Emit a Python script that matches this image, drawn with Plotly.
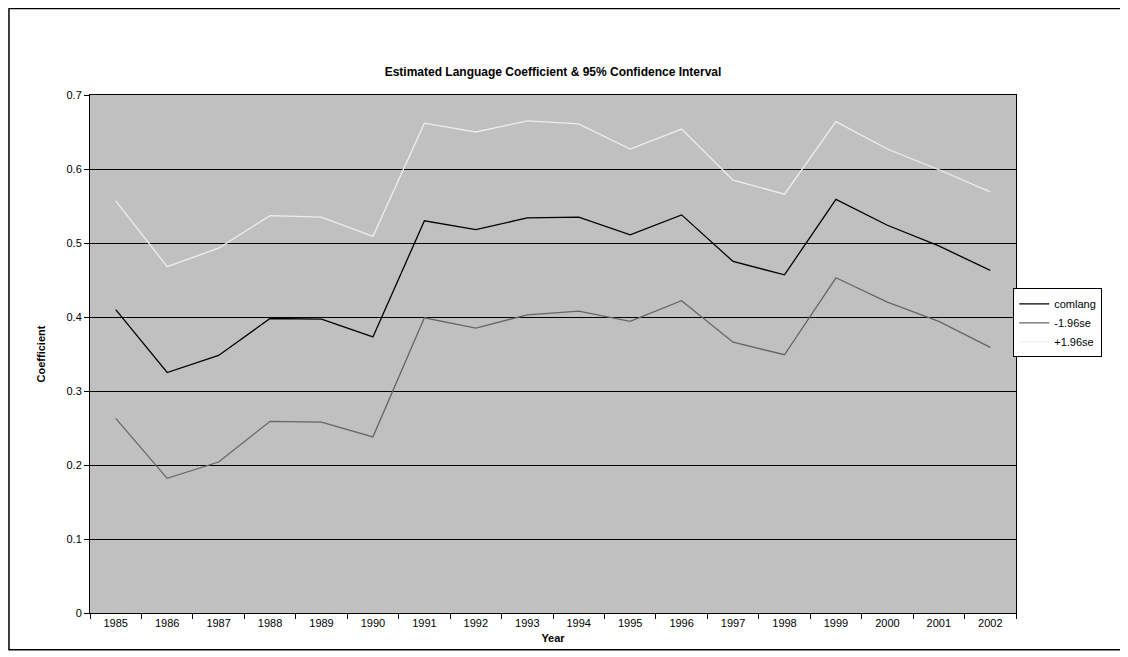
import plotly.graph_objects as go

years = [str(y) for y in range(1985, 2003)]
comlang = [0.41, 0.325, 0.348, 0.398, 0.397, 0.373, 0.53, 0.518, 0.534, 0.535, 0.511, 0.538, 0.475, 0.457, 0.559, 0.524, 0.496, 0.463]
lower = [0.263, 0.182, 0.204, 0.259, 0.258, 0.238, 0.399, 0.385, 0.403, 0.408, 0.394, 0.422, 0.366, 0.349, 0.453, 0.42, 0.394, 0.359]
upper = [0.557, 0.468, 0.493, 0.537, 0.535, 0.509, 0.662, 0.650, 0.665, 0.661, 0.627, 0.654, 0.585, 0.566, 0.664, 0.627, 0.599, 0.569]

fig = go.Figure()
fig.add_trace(go.Scatter(x=years, y=comlang, mode="lines", name="comlang", line=dict(color="black", width=1.3)))
fig.add_trace(go.Scatter(x=years, y=lower, mode="lines", name="-1.96se", line=dict(color="#666666", width=1.3)))
fig.add_trace(go.Scatter(x=years, y=upper, mode="lines", name="+1.96se", line=dict(color="#eeeeee", width=1.3)))

fig.update_layout(
    width=1120, height=649, paper_bgcolor="white", plot_bgcolor="#c0c0c0",
    margin=dict(l=82, r=112, t=87, b=44),
    font=dict(family="Liberation Sans, Arial", size=11, color="black"),
    title=dict(text="<b>Estimated Language Coefficient & 95% Confidence Interval</b>", x=0.5, xref="paper",
               y=1 - 64 / 649, yref="container", yanchor="middle", xanchor="center", font=dict(size=12)),
    legend=dict(x=0.997, y=0.56, xanchor="left", yanchor="middle", bordercolor="black", borderwidth=1,
                bgcolor="white", font=dict(size=11), tracegroupgap=0, itemwidth=30),
    showlegend=True,
    shapes=[dict(type="rect", xref="paper", yref="paper", x0=-0.0875, x1=1.1166, y0=-0.071, y1=1.167,
                 line=dict(color="black", width=1.5), fillcolor="rgba(0,0,0,0)", layer="below")],
)
fig.update_xaxes(type="category", range=[-0.5, 17.5], showgrid=False, ticks="outside", tickson="boundaries", ticklen=5,
                 tickcolor="black", showline=True, linecolor="black", mirror=True,
                 title=dict(text="<b>Year</b>", font=dict(size=11), standoff=6))
fig.update_yaxes(range=[0, 0.7], dtick=0.1, showgrid=True, gridcolor="black", gridwidth=1,
                 ticks="outside", ticklen=5, tickcolor="black", showline=True, linecolor="black", mirror=True,
                 zeroline=False,
                 title=dict(text="<b>Coefficient</b>", font=dict(size=11), standoff=18))
fig.write_html("out.html")
